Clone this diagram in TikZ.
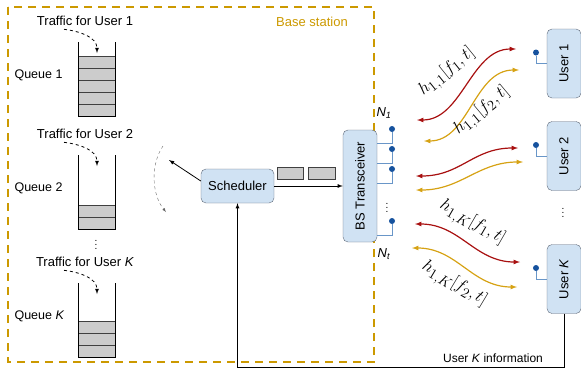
\documentclass[tikz,border=0pt]{standalone}
\usepackage[no-math]{fontspec}
\setmainfont{Liberation Sans}
\usepackage{amsmath}
\usetikzlibrary{calc}
\definecolor{bsgold}{RGB}{204,153,0}
\definecolor{linkred}{RGB}{168,16,16}
\definecolor{linkgold}{RGB}{214,162,20}
\definecolor{boxblue}{RGB}{208,226,243}
\definecolor{boxedge}{RGB}{95,105,120}
\definecolor{antblue}{RGB}{22,82,158}
\definecolor{antline}{RGB}{105,150,200}

\begin{document}
\begin{tikzpicture}[x=1pt,y=-1pt,font=\fontsize{13}{15}\selectfont]
\useasboundingbox (0,0) rectangle (581,373);
\tikzset{
  unit/.style={draw=boxedge,fill=boxblue,rounded corners=5pt,inner sep=0pt},
  cell/.style={draw=black!75,fill=black!20},
  antdot/.style={circle,fill=antblue,inner sep=0pt,minimum size=6pt},
  feed/.style={draw=antline,thick},
  link/.style={line width=1.2pt,latex-latex},
  chan/.style={font=\fontsize{19}{21}\selectfont,inner sep=1pt},
  dots/.style={font=\fontsize{10}{12}\selectfont},
}
% Draw the base station
\draw[bsgold,line width=1.6pt,dash pattern=on 8pt off 6pt] (8,7) rectangle (374,362);
\node[text=bsgold] (bsname) at (312,22) {Base station};
% the queues
\foreach \q/\top/\n/\user in {1/42/5/1, 2/155/2/2, 3/283/3/{\textit{K}}} {
  \pgfmathsetmacro{\bot}{\top+74}
  \foreach \c in {1,...,\n} {
    \draw[cell] (78,\bot-12*\c) rectangle (115,\bot-12*\c+12);
  }
  \draw[thick] (78,\top) -- (78,\bot) -- (115,\bot) -- (115,\top);
  \node (traffic\q) at (85,\top-21) {Traffic for User \user};
  \node[anchor=west,font=\fontsize{12.5}{14}\selectfont] (queue\q) at (11,\top+33) {Queue \user};
  \coordinate (qin\q) at (97,\top+11);
  \draw[thick,dashed,-latex] ([xshift=-21pt]traffic\q.south) .. controls +(16,2) and +(0,-16) .. (qin\q);
}
\node[dots] (qdots) at (96,242) {$\vdots$};
% scheduler and transceiver
\node[unit,minimum width=73pt,minimum height=34pt] (sched) at (237.5,186) {Scheduler};
\node[unit,rotate=90,minimum width=112pt,minimum height=34pt] (bs) at (360,186) {BS Transceiver};
\node[cell,minimum width=26pt,minimum height=12pt,inner sep=0pt] (pkt1) at (290,173) {};
\node[cell,minimum width=27pt,minimum height=12pt,inner sep=0pt] (pkt2) at (321.5,173) {};
\draw[thick,-latex] (sched) -- (bs);
\coordinate (pick) at (169,160);
\draw[thick,-latex] ([yshift=5pt]sched.west) -- (pick);
\coordinate (sweepa) at (163,146);
\coordinate (sweepb) at (166,212);
\draw[black!60,dashed,-latex] (sweepa) .. controls (150,165) and (152,195) .. (sweepb);
% BS antennas
\foreach \i/\y in {1/129,2/149,3/169,4/221} {
  \node[antdot] (ant\i) at (392,\y) {};
  \draw[feed] (ant\i) |- (bs.south |- 0,\y+14);
}
\node[dots] (bsdots) at (387,205) {$\vdots$};
\node (n1) at (384,113) {\textit{N}\textsubscript{\textit{1}}};
\node (nt) at (384,254) {\textit{N}\textsubscript{\textit{t}}};
% the users
\foreach \u/\y/\user in {1/63.5/1, 2/156/2, K/279/{\textit{K}}} {
  \node[unit,rotate=90,minimum width=69pt,minimum height=34pt] (user\u) at (564,\y) {User \user};
  \node[antdot] (uant\u) at (536,\y-11) {};
  \draw[feed] (uant\u) |- (user\u.north);
}
\node[dots] (udots) at (563,210) {$\vdots$};
% the channels
\foreach \n/\col/\xa/\ya/\xb/\yb in {r1/linkred/417/120/516/49, g1/linkgold/424/141/519/70,
    r2/linkred/416/176/518/148, g2/linkgold/416/190/523/162,
    r3/linkred/415/224/520/262, g3/linkgold/412/248/517/287} {
  \coordinate (\n a) at (\xa,\ya);
  \coordinate (\n b) at (\xb,\yb);
  \draw[link,\col] (\n a) .. controls +(45,0) and +(-45,0) .. (\n b);
}
\node[chan,rotate=39] (h11a) at (447,72) {$h_{1,1}[f_1,t]$};
\node[chan,rotate=40] (h11b) at (482,111) {$h_{1,1}[f_2,t]$};
\node[chan,rotate=-30] (h1Ka) at (472,223) {$h_{1,K}[f_1,t]$};
\node[chan,rotate=-31] (h1Kb) at (454,284) {$h_{1,K}[f_2,t]$};
% feedback to the scheduler
\draw[thick,-latex] (userK.west) -- ++(0,54) -| (sched.south);
\node[font=\fontsize{12}{14}\selectfont] (kinfo) at (493,358) {User \textit{K} information};
\end{tikzpicture}
\end{document}
